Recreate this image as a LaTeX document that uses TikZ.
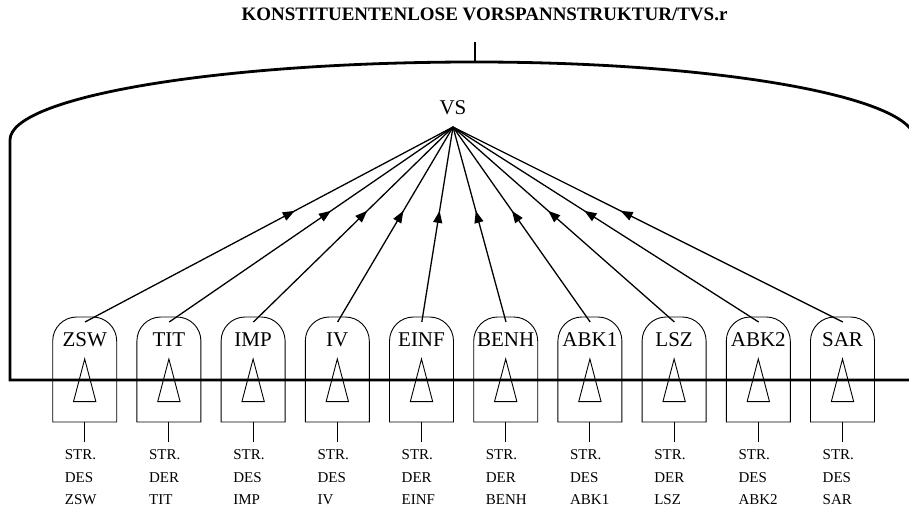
\documentclass[tikz,border=0pt]{standalone}
\usepackage{fontspec}
\setmainfont{Liberation Serif}
\usetikzlibrary{arrows.meta,decorations.markings}
\begin{document}
\begin{tikzpicture}[x=1pt,y=1pt,
  heavy/.style={line width=2.8pt},
  boxline/.style={line width=0.9pt},
  conn/.style={line width=1.3pt, postaction={decorate},
    decoration={markings, mark=at position 0.57 with {\arrow{Triangle[length=12pt,width=9pt]}}}},
  lab/.style={font=\fontsize{21}{24}\selectfont, inner sep=0pt},
  small/.style={font=\fontsize{15}{18}\selectfont, inner sep=0pt, anchor=base west},
]
\useasboundingbox (0,0) rectangle (909,508);
\clip (0,0) rectangle (909,508);
\node[font=\fontsize{19}{21}\selectfont\bfseries, anchor=base, inner sep=0pt] (title) at (484.5,487) {KONSTITUENTENLOSE VORSPANNSTRUKTUR/TVS.r};
\coordinate (stemtop) at (475,466);
\coordinate (apex) at (475,446);
\draw[heavy] (stemtop) -- (apex);
\draw[heavy] (915,128) -- (10,128) -- (10,368)
  arc[start angle=180,end angle=90,x radius=465,y radius=78]
  arc[start angle=90,end angle=0,x radius=440,y radius=78] -- (915,128);
\node[lab] (vs) at (453,400.5) {VS};
\coordinate (hub) at (453,381);
\foreach \lab/\art [count=\i from 0] in {ZSW/DES,TIT/DER,IMP/DES,IV/DES,EINF/DER,BENH/DER,ABK1/DES,LSZ/DER,ABK2/DES,SAR/DES}{
  \pgfmathsetmacro\cx{84.7+84.2*\i}
  \draw[boxline] (\cx-32,86) -- (\cx-32,167) arc[start angle=180,end angle=90,radius=24]
     -- (\cx+8,191) arc[start angle=90,end angle=0,radius=24] -- (\cx+32,86) -- cycle;
  \draw[boxline] (\cx,149) -- (\cx-11.2,106.3) -- (\cx+11.2,106.3) -- cycle;
  \node[lab] (l\i) at (\cx,168.5) {\lab};
  \coordinate (t\i) at (\cx+0.3,186);
  \draw[conn] (t\i) -- (hub);
  \coordinate (bb\i) at (\cx,86);
  \coordinate (be\i) at (\cx,66);
  \draw[boxline] (bb\i) -- (be\i);
  \node[small] (sa\i) at (\cx-20,48) {STR.};
  \node[small] (sd\i) at (\cx-20,25.3) {\art};
  \node[small] (sn\i) at (\cx-20,3) {\lab};
}
\draw[heavy] (10,128) -- (915,128);
\end{tikzpicture}
\end{document}
